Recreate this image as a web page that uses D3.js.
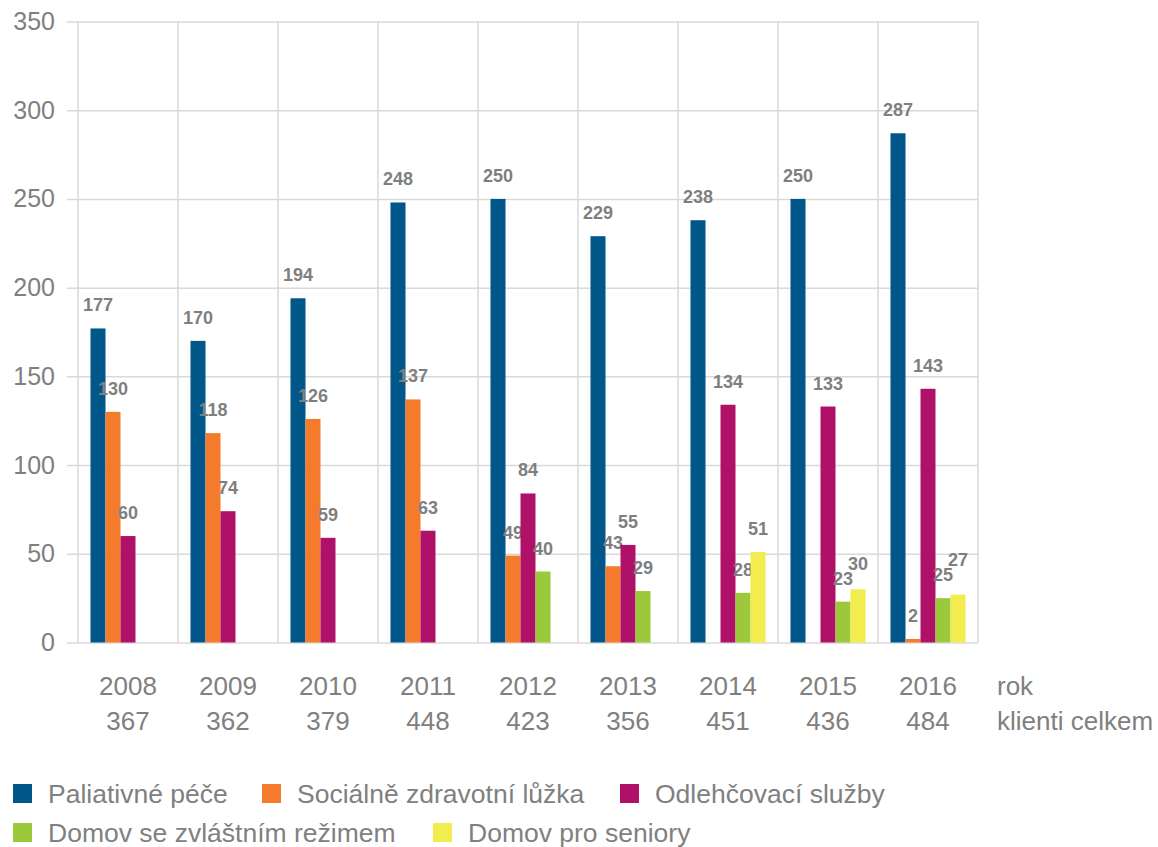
<!DOCTYPE html>
<html>
<head>
<meta charset="utf-8">
<script src="https://cdn.jsdelivr.net/npm/d3@7"></script>
<style>
    body { margin: 0; background: #fff; }
    text { font-family: "Liberation Sans", Arial, sans-serif; }
</style>
</head>
<body>
<div id="chart"></div>
<script>
// categories and values
var years = ["2008", "2009", "2010", "2011", "2012", "2013", "2014", "2015", "2016"];
var totals = [367, 362, 379, 448, 423, 356, 451, 436, 484];
var seriesNames = ["Paliativné péče", "Sociálně zdravotní lůžka", "Odlehčovací služby",
                   "Domov se zvláštním režimem", "Domov pro seniory"];
var palliative = [177, 170, 194, 248, 250, 229, 238, 250, 287];
var socialBeds = [130, 118, 126, 137, 49, 43, null, null, 2];
var respite = [60, 74, 59, 63, 84, 55, 134, 133, 143];
var specialRegime = [null, null, null, null, 40, 29, 28, 23, 25];
var seniorHome = [null, null, null, null, null, null, 51, 30, 27];
var yTicks = [0, 50, 100, 150, 200, 250, 300, 350];

(function() {
    var width = 1158,
        height = 847,
        colors = ["#015789", "#f47b2b", "#ae1167", "#9cc93b", "#f3ec4f"],
        grey = "#808080",
        gridColor = "#d9d9d9",
        svg = d3.select("#chart").append("svg")
                .attr("width", width).attr("height", height);

    var seriesValues = [palliative, socialBeds, respite, specialRegime, seniorHome];

    var plot = { left: 78, right: 978, top: 21.5, bottom: 642.5 };

    var y = d3.scaleLinear().domain([0, 350]).range([plot.bottom, plot.top]);
    var x0 = d3.scaleBand().domain(years).range([plot.left, plot.right]).padding(0);
    var x1 = d3.scaleBand().domain(d3.range(seriesNames.length))
                .range([x0.bandwidth() * 0.125, x0.bandwidth() * 0.875]).padding(0);

    // horizontal grid + tick labels, stub runs 11px left of the plot
    var yAxis = svg.append("g")
        .attr("transform", "translate(" + (plot.left - 11) + ",0)")
        .call(d3.axisLeft(y).tickValues(yTicks)
                .tickSize(-(plot.right - plot.left + 11)).tickPadding(12));
    yAxis.select(".domain").remove();
    yAxis.selectAll("line").attr("stroke", gridColor).attr("stroke-width", 1.5);
    yAxis.selectAll("text")
        .attr("fill", grey).style("font-size", "25px")
        .style("font-family", "'Liberation Sans', Arial, sans-serif");

    // vertical grid lines between the years
    var bounds = years.map(function(d) { return x0(d); }).concat([plot.right]);
    svg.append("g").selectAll("line").data(bounds).enter().append("line")
        .attr("x1", function(d) { return d; }).attr("x2", function(d) { return d; })
        .attr("y1", plot.top).attr("y2", plot.bottom)
        .attr("stroke", gridColor).attr("stroke-width", 1.5);

    // bars
    var groups = svg.append("g").selectAll("g").data(years).enter().append("g")
        .attr("transform", function(d) { return "translate(" + x0(d) + ",0)"; });

    var cells = groups.selectAll("g.cell")
        .data(function(d, i) {
            return seriesValues.map(function(s, k) { return { k: k, v: s[i] }; })
                .filter(function(c) { return c.v !== null; });
        })
        .enter().append("g").attr("class", "cell");

    cells.append("rect")
        .attr("x", function(d) { return x1(d.k); })
        .attr("y", function(d) { return y(d.v); })
        .attr("width", x1.bandwidth())
        .attr("height", function(d) { return y(0) - y(d.v); })
        .attr("fill", function(d) { return colors[d.k]; });

    cells.append("text")
        .attr("class", "val")
        .attr("x", function(d) { return x1(d.k) + x1.bandwidth() / 2; })
        .attr("y", function(d) { return y(d.v) - 17; })
        .attr("text-anchor", "middle")
        .attr("fill", "#7f7f7f")
        .style("font-size", "18px").style("font-weight", "bold")
        .text(function(d) { return d.v; });

    // push a label up when it runs into its left neighbour
    groups.each(function() {
        var prev = null;
        d3.select(this).selectAll("text.val").each(function() {
            var t = d3.select(this),
                cx = +t.attr("x"), by = +t.attr("y"),
                w = this.getComputedTextLength(), h = 13;
            if (prev && Math.abs(cx - prev.cx) < (w + prev.w) / 2 &&
                by > prev.by - h - 2 && by - h < prev.by) {
                by = prev.by - h - 2;
                t.attr("y", by);
            }
            prev = { cx: cx, by: by, w: w };
        });
    });

    // year and total rows under the axis
    var xLabels = svg.append("g").selectAll("g").data(years).enter().append("g");
    xLabels.append("text")
        .attr("x", function(d) { return x0(d) + x0.bandwidth() / 2; })
        .attr("y", 695)
        .attr("text-anchor", "middle").attr("fill", grey).style("font-size", "26px")
        .text(function(d) { return d; });
    xLabels.append("text")
        .attr("x", function(d) { return x0(d) + x0.bandwidth() / 2; })
        .attr("y", 730)
        .attr("text-anchor", "middle").attr("fill", grey).style("font-size", "26px")
        .text(function(d, i) { return totals[i]; });

    svg.append("text").attr("x", 997).attr("y", 695)
        .attr("fill", grey).style("font-size", "26px").text("rok");
    svg.append("text").attr("x", 997).attr("y", 730)
        .attr("fill", grey).style("font-size", "26px").text("klienti celkem");

    // legend, two rows
    var legendPos = [
        { x: 13, row: 0 }, { x: 262, row: 0 }, { x: 620, row: 0 },
        { x: 13, row: 1 }, { x: 433, row: 1 }
    ];
    var legend = svg.append("g").selectAll("g").data(seriesNames).enter().append("g")
        .attr("transform", function(d, i) {
            return "translate(" + legendPos[i].x + "," + (784 + legendPos[i].row * 39) + ")";
        });
    legend.append("rect")
        .attr("width", 19).attr("height", 19)
        .attr("fill", function(d, i) { return colors[i]; });
    legend.append("text")
        .attr("x", 35).attr("y", 19)
        .attr("fill", grey).style("font-size", "26.5px")
        .text(function(d) { return d; });
})();
</script>
</body>
</html>
